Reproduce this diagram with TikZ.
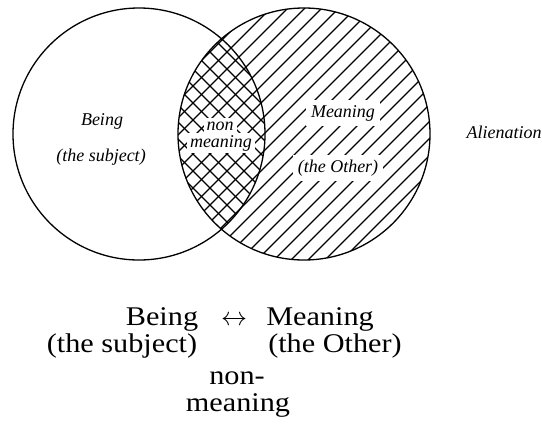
\documentclass[tikz,border=0pt]{standalone}
\usepackage{graphicx}
\usepackage{fontspec}
\setmainfont{Liberation Serif}
\newfontfamily\widefont[FakeStretch=1.12]{Liberation Serif}
\begin{document}
\begin{tikzpicture}[x=1pt,y=-1pt,
  ring/.style={draw=black, line width=1.3pt},
  hatch/.style={line width=1.2pt},
  lbl/.style={font=\fontsize{18}{20}\selectfont\itshape, anchor=base, inner sep=0pt},
  knock/.style={fill=white, inner xsep=3pt, inner ysep=3.5pt},
  big/.style={font=\widefont\fontsize{27}{30}\selectfont, anchor=base, inner sep=0pt}]
\useasboundingbox (0,0) rectangle (542,424);
\coordinate (cl) at (139,134);
\coordinate (cr) at (304,134);
% hatching of the right circle
\begin{scope}
  \clip (cr) circle (126pt);
  \foreach \k in {-62,-45,...,360} \draw[hatch] (\k,290) -- ++(300,-300);
\end{scope}
% cross-hatching of the intersection
\begin{scope}
  \clip (cl) circle (126pt);
  \clip (cr) circle (126pt);
  \foreach \k in {-124,-107,...,280} \draw[hatch] (\k,-10) -- ++(300,300);
\end{scope}
% circles
\draw[ring] (cl) circle (126pt);
\draw[ring] (cr) circle (126pt);
% labels inside
\node[lbl] (being) at (102,125) {Being};
\node[lbl] (subj) at (101,161) {(the subject)};
\node[lbl, knock] (non) at (220,130) {non};
\node[lbl, knock, inner ysep=2pt] (nonmeaning) at (221,147) {meaning};
\node[lbl, knock, inner sep=5pt] (meaning) at (343,117) {Meaning};
\node[lbl, knock, inner sep=5pt] (other) at (338,172) {(the Other)};
\node[lbl] (alien) at (504,138) {Alienation};
% formula below
\node[big] (bBeing) at (162,325) {Being};
\node[anchor=base, inner sep=0pt] (arrow) at (234,325) {\scalebox{2.6}{$\leftrightarrow$}};
\node[big] (bMeaning) at (320,325) {Meaning};
\node[big] (bSubj) at (122,352) {(the subject)};
\node[big] (bOther) at (335,352) {(the Other)};
\node[big] (bNon) at (237,384) {non-};
\node[big] (bMean2) at (238,411) {meaning};
\end{tikzpicture}
\end{document}
